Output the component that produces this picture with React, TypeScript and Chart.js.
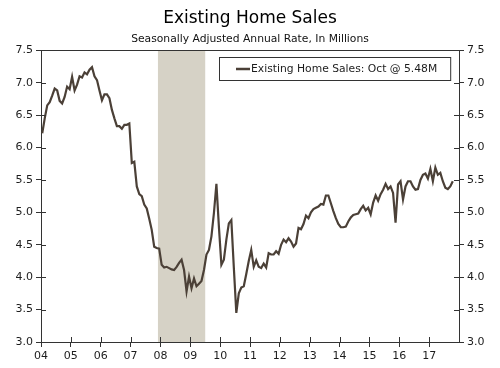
import { useEffect, useRef } from 'react';
import { Chart, registerables } from 'chart.js';

Chart.register(...registerables);

// ---- Data (monthly, Jan 2004 – Oct 2017, SAAR millions) ----
const yearLabels = ['04', '05', '06', '07', '08', '09', '10', '11', '12', '13', '14', '15', '16', '17'];

const sales2004 = [6.22, 6.45, 6.65, 6.70, 6.80, 6.91, 6.88, 6.72, 6.68, 6.78, 6.94, 6.90];
const sales2005 = [7.09, 6.88, 6.97, 7.10, 7.08, 7.16, 7.13, 7.20, 7.24, 7.10, 7.04, 6.88];
const sales2006 = [6.73, 6.82, 6.82, 6.76, 6.58, 6.45, 6.33, 6.33, 6.29, 6.35, 6.35, 6.37];
const sales2007 = [5.76, 5.78, 5.40, 5.28, 5.25, 5.12, 5.06, 4.90, 4.73, 4.47, 4.45, 4.44];
const sales2008 = [4.19, 4.15, 4.16, 4.14, 4.12, 4.11, 4.16, 4.22, 4.27, 4.11, 3.78, 4.01];
const sales2009 = [3.83, 3.98, 3.86, 3.90, 3.94, 4.11, 4.35, 4.42, 4.63, 4.99, 5.44, 4.78];
const sales2010 = [4.19, 4.27, 4.58, 4.83, 4.88, 4.15, 3.45, 3.75, 3.84, 3.86, 4.05, 4.25];
const sales2011 = [4.42, 4.16, 4.26, 4.16, 4.14, 4.21, 4.15, 4.37, 4.35, 4.35, 4.40, 4.36];
const sales2012 = [4.50, 4.58, 4.54, 4.60, 4.55, 4.47, 4.52, 4.76, 4.74, 4.82, 4.95, 4.91];
const sales2013 = [5.00, 5.05, 5.07, 5.09, 5.13, 5.12, 5.26, 5.26, 5.14, 5.02, 4.91, 4.82];
const sales2014 = [4.77, 4.77, 4.78, 4.86, 4.92, 4.96, 4.97, 4.98, 5.05, 5.10, 5.03, 5.07];
const sales2015 = [4.97, 5.15, 5.26, 5.18, 5.28, 5.35, 5.44, 5.36, 5.40, 5.30, 4.84, 5.43];
const sales2016 = [5.48, 5.20, 5.40, 5.48, 5.48, 5.40, 5.35, 5.36, 5.50, 5.58, 5.60, 5.52];
const sales2017 = [5.67, 5.48, 5.69, 5.58, 5.61, 5.48, 5.38, 5.36, 5.40, 5.48];

const sales = [
  ...sales2004, ...sales2005, ...sales2006, ...sales2007, ...sales2008, ...sales2009, ...sales2010,
  ...sales2011, ...sales2012, ...sales2013, ...sales2014, ...sales2015, ...sales2016, ...sales2017,
];

// Recession: Dec 2007 – Jun 2009 (month indices from Jan 2004)
const recessionStartMonth = 47;
const recessionEndMonth = 65;

const titleText = 'Existing Home Sales';
const subtitleText = 'Seasonally Adjusted Annual Rate, In Millions';
const legendLabel = 'Existing Home Sales: Oct @ 5.48M';

const yMin = 3.0;
const yMax = 7.5;
const yStep = 0.5;
const monthsSpan = 168;

// ---- Styles ----
const FONT = 'Verdana, "DejaVu Sans", sans-serif';
const lineColor = '#4b4037';
const shadeColor = '#d6d2c6';
const axisColor = '#333333';
const textColor = '#1c1c1c';

const shadePlugin = {
  id: 'recessionShade',
  beforeDatasetsDraw(chart: any) {
    const { ctx, chartArea, scales } = chart;
    const x1 = scales.x.getPixelForValue(recessionStartMonth);
    const x2 = scales.x.getPixelForValue(recessionEndMonth + 1);
    ctx.save();
    ctx.fillStyle = shadeColor;
    ctx.fillRect(x1, chartArea.top, x2 - x1, chartArea.bottom - chartArea.top);
    ctx.restore();
  },
};

const framePlugin = {
  id: 'frameAndTicks',
  afterDraw(chart: any) {
    const { ctx, chartArea, scales } = chart;
    ctx.save();
    ctx.strokeStyle = axisColor;
    ctx.lineWidth = 1;
    ctx.beginPath();
    ctx.moveTo(chartArea.left, Math.round(chartArea.top) + 0.5);
    ctx.lineTo(chartArea.right, Math.round(chartArea.top) + 0.5);
    // inward halves of tick marks
    scales.x.ticks.forEach((t: any) => {
      const px = Math.round(scales.x.getPixelForValue(t.value)) + 0.5;
      ctx.moveTo(px, chartArea.bottom);
      ctx.lineTo(px, chartArea.bottom - 5);
    });
    scales.y.ticks.forEach((t: any) => {
      const py = Math.round(scales.y.getPixelForValue(t.value)) + 0.5;
      ctx.moveTo(chartArea.left, py);
      ctx.lineTo(chartArea.left + 5, py);
      ctx.moveTo(chartArea.right, py);
      ctx.lineTo(chartArea.right - 5, py);
    });
    ctx.stroke();

    // boxed legend
    ctx.font = `10.75px ${FONT}`;
    const tw = ctx.measureText(legendLabel).width;
    const h = 23;
    const w = 17 + 15 + tw + 13;
    const right = chartArea.right - 9;
    const top = Math.round(chartArea.top) + 7;
    const left = Math.round(right - w);
    ctx.fillStyle = '#ffffff';
    ctx.fillRect(left, top, w, h);
    ctx.strokeStyle = axisColor;
    ctx.lineWidth = 1;
    ctx.strokeRect(left + 0.5, top + 0.5, w, h);
    ctx.strokeStyle = lineColor;
    ctx.lineWidth = 2.5;
    ctx.beginPath();
    ctx.moveTo(left + 17, top + h / 2 + 0.5);
    ctx.lineTo(left + 31, top + h / 2 + 0.5);
    ctx.stroke();
    ctx.fillStyle = textColor;
    ctx.textBaseline = 'middle';
    ctx.textAlign = 'left';
    ctx.fillText(legendLabel, left + 32, top + h / 2 + 1);
    ctx.restore();
  },
};

const yAxis = (position: 'left' | 'right') => ({
  type: 'linear' as const,
  position,
  min: yMin,
  max: yMax,
  ticks: {
    stepSize: yStep,
    callback: (v: any) => Number(v).toFixed(1),
    font: { family: FONT, size: 11 },
    color: textColor,
    padding: 3,
  },
  grid: { drawOnChartArea: false, drawTicks: true, tickLength: 5, color: axisColor },
  border: { display: true, color: axisColor, width: 1 },
  afterFit: (s: any) => {
    s.width = 41;
  },
});

export default function App() {
  const ref = useRef<HTMLCanvasElement>(null);

  useEffect(() => {
    const chart = new Chart(ref.current as HTMLCanvasElement, {
      type: 'line',
      data: {
        datasets: [
          {
            label: legendLabel,
            data: sales.map((v, i) => ({ x: i + 0.5, y: v })),
            borderColor: lineColor,
            borderWidth: 2.2,
            pointRadius: 0,
            fill: false,
            tension: 0,
            xAxisID: 'x',
            yAxisID: 'y',
          },
        ],
      },
      options: {
        responsive: false,
        animation: false,
        layout: { padding: 0 },
        plugins: {
          legend: { display: false },
          tooltip: { enabled: false },
          title: {
            display: true,
            text: titleText,
            color: '#000',
            font: { family: FONT, size: 17, weight: 'normal', lineHeight: 1.2 },
            padding: { top: 8, bottom: 0 },
          },
          subtitle: {
            display: true,
            text: subtitleText,
            color: '#111',
            font: { family: FONT, size: 10.75, weight: 'normal', lineHeight: 1.2 },
            padding: { top: 4, bottom: 5 },
          },
        },
        scales: {
          x: {
            type: 'linear',
            min: 0,
            max: monthsSpan,
            afterBuildTicks: (s: any) => {
              s.ticks = yearLabels.map((_, i) => ({ value: i * 12 }));
            },
            ticks: {
              callback: (v: any) => yearLabels[Math.round(Number(v) / 12)] ?? '',
              font: { family: FONT, size: 11 },
              color: textColor,
              padding: 3,
              maxRotation: 0,
              autoSkip: false,
            },
            grid: { drawOnChartArea: false, drawTicks: true, tickLength: 5, color: axisColor },
            border: { display: true, color: axisColor, width: 1 },
            afterFit: (s: any) => {
              s.height = 26;
            },
          },
          y: yAxis('left'),
          y2: yAxis('right'),
        },
      } as any,
      plugins: [shadePlugin, framePlugin],
    });
    return () => chart.destroy();
  }, []);

  return (
    <div style={{ position: 'absolute', left: 0, top: 0, width: 500, height: 368, background: '#fff' }}>
      <canvas ref={ref} width={500} height={368} style={{ display: 'block' }} />
    </div>
  );
}
